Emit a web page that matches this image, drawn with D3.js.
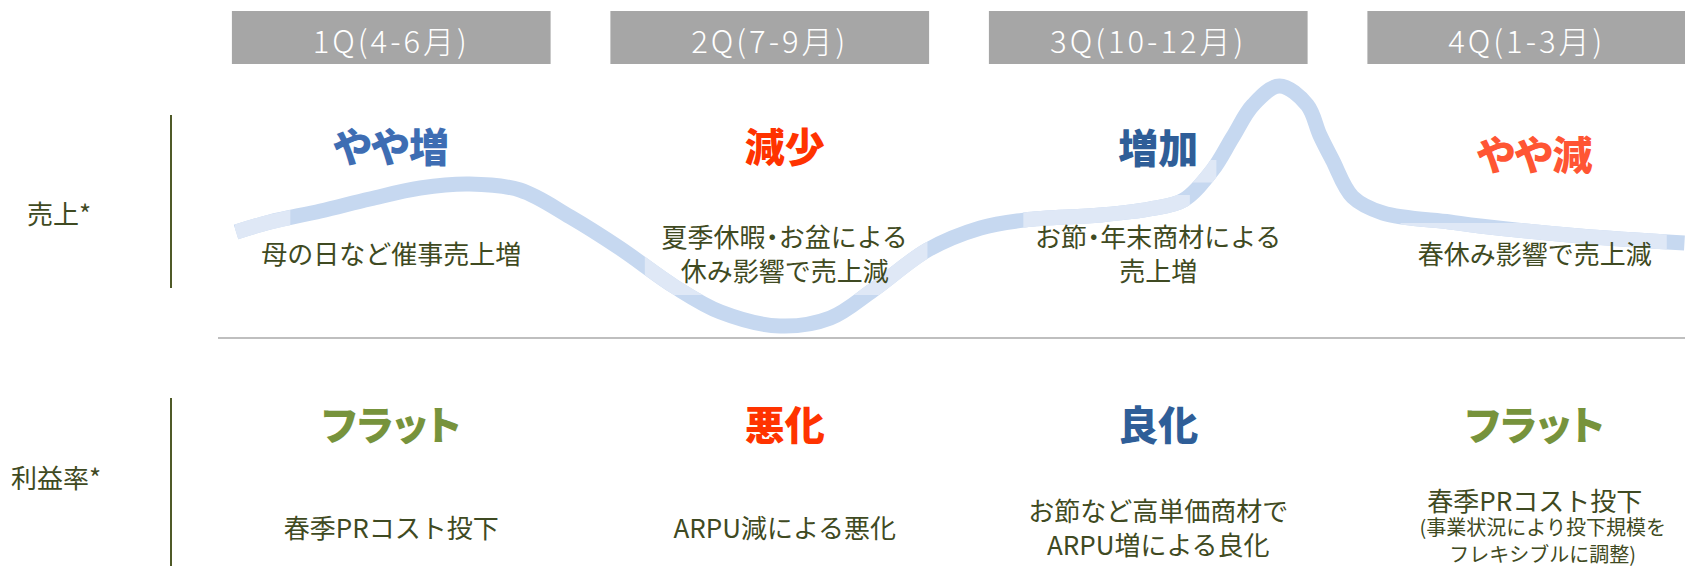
<!DOCTYPE html>
<html>
<head>
<meta charset="utf-8">
<script src="https://cdn.jsdelivr.net/npm/d3@7"></script>
<style>
    body { margin: 0; background: #fff; }
    svg { display: block; font-family: "Noto Sans CJK JP", "Noto Sans", sans-serif; }
    .palt { font-feature-settings: "palt"; }
</style>
</head>
<body>
<div id="chart"></div>
<script>
// Quarter headers and row labels
const quarters = ['1Q(4-6月)', '2Q(7-9月)', '3Q(10-12月)', '4Q(1-3月)'];
const rowLabels = ['売上*', '利益率*'];

// Sales row
const salesTrend = ['やや増', '減少', '増加', 'やや減'];
const salesTone = ['upSlight', 'down', 'up', 'downSlight'];
const salesNotes = [
    ['母の日など催事売上増'],
    ['夏季休暇・お盆による', '休み影響で売上減'],
    ['お節・年末商材による', '売上増'],
    ['春休み影響で売上減']
];

// Margin row
const marginTrend = ['フラット', '悪化', '良化', 'フラット'];
const marginTone = ['flat', 'down', 'up', 'flat'];
const marginNotes = [
    ['春季PRコスト投下'],
    ['ARPU減による悪化'],
    ['お節など高単価商材で', 'ARPU増による良化'],
    ['春季PRコスト投下']
];
const marginSubNotes = [[], [], [], ['(事業状況により投下規模を', 'フレキシブルに調整)']];

// Sales curve: months since April vs. relative sales level (0-100)
const curveMonths = [0.27, 0.54, 0.94, 1.33, 1.73, 2.12, 2.52, 2.92, 3.31, 3.75, 4.11, 4.58, 4.98, 5.32, 5.75,
    6.17, 6.52, 7.12, 7.51, 7.78, 8.01, 8.17, 8.33, 8.54, 8.76, 8.86, 8.96, 9.12, 9.36, 9.89, 10.13, 10.92, 11.75];
const curveLevels = [39.2, 43.2, 47.6, 52.4, 56.8, 58.4, 56, 45.2, 32.8, 17.2, 7.2, 1.6, 4.8, 16, 32,
    40.8, 44, 46, 48.4, 52, 64, 77.2, 90, 97.6, 90, 78, 68, 53.2, 46.8, 43.2, 41.6, 37.6, 34.8];

// Lighter (overlapping) stretches of the curve: [month from, month to, level min, level max]
const fadeSpans = [[0.26, 0.70, 0, 100], [3.51, 5.75, 14, 100], [6.51, 7.83, 0, 54], [7.83, 8.04, 59, 68], [9.5, 11.61, 0, 42.8]];

const toneColor = {
    upSlight: '#3e6db3',
    up: '#2f5e98',
    down: '#ff3300',
    downSlight: '#ff5533',
    flat: '#77933c'
};
const noteColor = '#3f4a22';
// small per-column nudges of the text blocks, as in the slide
const colNudge = [0, 15, 10, 8];

const width = 1685, height = 566;

const svg = d3.select('#chart')
    .append('svg')
    .attr('width', width)
    .attr('height', height);

// Scales
const xBand = d3.scaleBand()
    .domain(quarters)
    .range([202, 1716])
    .paddingInner(0.158)
    .paddingOuter(0.079);

const xMonth = d3.scaleLinear().domain([0, 12]).range([202, 1716]);
const yLevel = d3.scaleLinear().domain([0, 100]).range([330, 80]);

const colX = (i) => xBand(quarters[i]) + xBand.bandwidth() / 2 + colNudge[i];

// Sales curve (drawn first, behind the text)
const line = d3.line()
    .x((d, i) => xMonth(curveMonths[i]))
    .y((d, i) => yLevel(curveLevels[i]))
    .curve(d3.curveCatmullRom.alpha(0.5));

const defs = svg.append('defs');
fadeSpans.forEach((s, k) => {
    const top = s[3] === 100 ? 0 : yLevel(s[3]);
    const bottom = s[2] === 0 ? height : yLevel(s[2]);
    defs.append('clipPath')
        .attr('id', `fade-${k}`)
        .append('rect')
        .attr('x', xMonth(s[0]))
        .attr('width', xMonth(s[1]) - xMonth(s[0]))
        .attr('y', top)
        .attr('height', bottom - top);
});

svg.append('path')
    .datum(curveMonths)
    .attr('d', line)
    .attr('fill', 'none')
    .attr('stroke', '#c6d8f0')
    .attr('stroke-width', 15)
    .attr('stroke-linecap', 'butt');

fadeSpans.forEach((s, k) => {
    svg.append('path')
        .datum(curveMonths)
        .attr('d', line)
        .attr('fill', 'none')
        .attr('stroke', '#dfe8f6')
        .attr('stroke-width', 15)
        .attr('clip-path', `url(#fade-${k})`);
});

// Quarter header boxes
const header = svg.selectAll('.quarter')
    .data(quarters)
    .enter()
    .append('g')
    .attr('class', 'quarter');

header.append('rect')
    .attr('x', d => xBand(d))
    .attr('y', 11)
    .attr('width', xBand.bandwidth())
    .attr('height', 53)
    .attr('fill', '#a6a6a6');

header.append('text')
    .attr('x', d => xBand(d) + xBand.bandwidth() / 2)
    .attr('y', 39)
    .attr('text-anchor', 'middle')
    .attr('dominant-baseline', 'central')
    .attr('fill', '#fff')
    .attr('font-size', 31)
    .attr('font-weight', 300)
    .attr('letter-spacing', 3)
    .text(d => d);

// Row labels and vertical rules
const rowCenter = [212, 476];
const rowRule = [[115, 288], [398, 566]];
rowLabels.forEach((label, r) => {
    svg.append('text')
        .attr('x', 27 - (r === 1 ? 16 : 0))
        .attr('y', rowCenter[r])
        .attr('dominant-baseline', 'central')
        .attr('fill', noteColor)
        .attr('font-size', 26)
        .text(label);
    svg.append('line')
        .attr('x1', 171).attr('x2', 171)
        .attr('y1', rowRule[r][0]).attr('y2', rowRule[r][1])
        .attr('stroke', '#4f5a28')
        .attr('stroke-width', 2);
});

// Separator between rows
svg.append('line')
    .attr('x1', 218).attr('x2', width)
    .attr('y1', 338).attr('y2', 338)
    .attr('stroke', '#bfbfbf')
    .attr('stroke-width', 2);

// Trend headline words
function drawTrend(words, tones, y, yShift) {
    svg.selectAll(null)
        .data(words)
        .enter()
        .append('text')
        .attr('class', 'palt')
        .attr('x', (d, i) => colX(i))
        .attr('y', (d, i) => y + (yShift ? yShift[i] : 0))
        .attr('text-anchor', 'middle')
        .attr('dominant-baseline', 'central')
        .attr('fill', (d, i) => toneColor[tones[i]])
        .attr('font-size', 40)
        .attr('font-weight', 900)
        .text(d => d);
}
drawTrend(salesTrend, salesTone, 145, [0, 0, 1, 8]);
drawTrend(marginTrend, marginTone, 423);

// a note line; the middle dot is set proportionally, as in the slide
function noteLine(text, x, y, size) {
    const t = svg.append('text')
        .attr('x', x)
        .attr('y', y)
        .attr('text-anchor', 'middle')
        .attr('dominant-baseline', 'central')
        .attr('fill', noteColor)
        .attr('font-size', size);
    text.split(/(・)/).forEach(part => {
        if (!part) return;
        const span = t.append('tspan').text(part);
        if (part === '・') span.attr('class', 'palt');
    });
}

// Notes: blocks centred on a row line
function drawNotes(notes, subs, centerY) {
    notes.forEach((lines, i) => {
        const sub = subs ? subs[i] : [];
        const items = lines.map(t => ({t, size: 26, gap: 34}))
            .concat(sub.map(t => ({t, size: 20, gap: 27})));
        let total = 0;
        items.forEach((it, k) => { if (k > 0) total += it.gap; });
        let y = centerY - total / 2;
        items.forEach((it, k) => {
            if (k > 0) y += it.gap;
            noteLine(it.t, colX(i) + (it.size === 20 ? 8 : 0), y, it.size);
        });
    });
}
drawNotes(salesNotes, null, 252);
drawNotes(marginNotes, marginSubNotes, 526);
</script>
</body>
</html>
